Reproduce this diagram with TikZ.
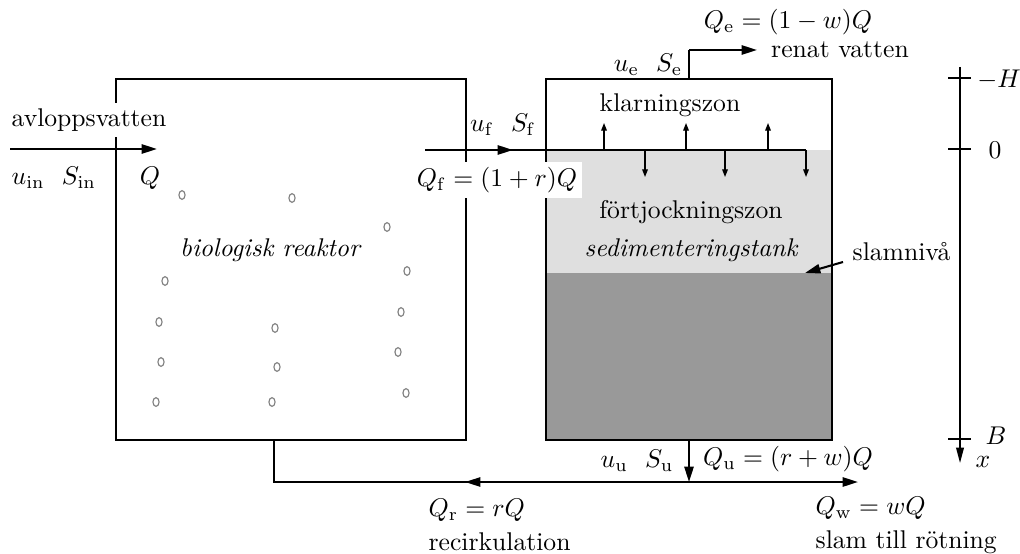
\documentclass[tikz,border=0pt]{standalone}
\usepackage{amsmath}
\usetikzlibrary{arrows.meta}

\begin{document}
\begin{tikzpicture}[
  x=0.39pt, y=-0.39pt,
  wall/.style={line width=0.8pt},
  pipe/.style={line width=0.8pt},
  arr/.style={-{Triangle[length=6pt,width=3.6pt]}, line width=0.8pt},
  flux/.style={-{Triangle[length=3pt,width=2.2pt]}, line width=0.5pt},
  axis/.style={-{Triangle[length=6pt,width=3pt]}, line width=0.6pt},
  lbl/.style={inner sep=2pt},
  cover/.style={fill=white, inner sep=2pt},
  bubble/.style={draw=gray, line width=0.45pt},
]
\useasboundingbox (0,0) rectangle (1020,554);

% ---- tank contents
\fill[gray!25] (546,150) rectangle (832,273);
\fill[black!40] (546,273) rectangle (832,440);

% ---- reactor and tank
\draw[wall] (116,79) rectangle (466,440);
\draw[wall] (546,79) rectangle (832,440);
\foreach \bx/\by in {182/195, 292/198, 387/227, 165/281, 407/271, 159/322, 275/328,
                     401/312, 161/362, 277/367, 398/352, 156/402, 272/402, 406/393}
  \draw[bubble] (\bx,\by) ellipse [x radius=1.2pt, y radius=1.7pt];

% ---- pipe points
\coordinate (in) at (10,149);
\coordinate (inTip) at (157,149);
\coordinate (fs) at (425,150);
\coordinate (fm) at (513,150);
\coordinate (fe) at (806,150);
\coordinate (eo) at (689,79);
\coordinate (ec) at (689,50);
\coordinate (eTip) at (757,50);
\coordinate (uo) at (689,440);
\coordinate (uj) at (689,482);
\coordinate (rm) at (465,482);
\coordinate (rc) at (274,482);
\coordinate (ri) at (274,440);
\coordinate (wTip) at (858,482);
\coordinate (lvl) at (805,273);

% ---- flows
\draw[arr] (in) -- (inTip);
\draw[pipe] (fs) -- (fe);
\draw[arr] (fs) -- (fm);
\draw[flux] (fe) -- ++(0,27);
\foreach \ux in {604,686,768}
  \draw[flux] (\ux,150) -- (\ux,123);
\foreach \dx in {645,725}
  \draw[flux] (\dx,150) -- (\dx,177);
\draw[pipe] (eo) -- (ec);
\draw[arr] (ec) -- (eTip);
\draw[arr] (uo) -- (uj);
\draw[pipe] (uj) -- (rc) -- (ri);
\draw[arr] (uj) -- (rm);
\draw[arr] (uj) -- (wTip);

% ---- depth axis
\draw[axis] (960,67) -- (960,463);
\foreach \ty in {78,149,439}
  \draw[line width=0.6pt] (948,\ty) -- (971,\ty);

% ---- labels
\node[cover, anchor=west] (avl) at (6,120) {avloppsvatten};
\node[lbl, anchor=west] (uin) at (6,178) {$u_{\mathrm{in}}\ \ S_{\mathrm{in}}$};
\node[lbl] (q) at (150,178) {$Q$};
\node[lbl] (uf) at (503,125) {$u_{\mathrm{f}}\ \ S_{\mathrm{f}}$};
\node[cover] (qf) at (497,180) {$Q_{\mathrm{f}}=(1+r)Q$};
\node[lbl] (ue) at (648,65) {$u_{\mathrm{e}}\ \ S_{\mathrm{e}}$};
\node[lbl] (qe) at (788,22) {$Q_{\mathrm{e}}=(1-w)Q$};
\node[lbl] (renat) at (840,50) {renat vatten};
\node[lbl] (klar) at (670,105) {klarningszon};
\node[lbl] (fort) at (691,212) {förtjockningszon};
\node[lbl] (sed) at (691,250) {\itshape sedimenteringstank};
\node[lbl, anchor=west] (slam) at (847,252) {slamnivå};
\draw[arr] (slam.west) ++(-4,10) -- (lvl);
\node[lbl] (bio) at (270,250) {\itshape biologisk reaktor};
\node[lbl] (mH) at (999,80) {$-H$};
\node[lbl] (zero) at (995,150) {$0$};
\node[lbl] (bB) at (996,436) {$B$};
\node[lbl] (xx) at (983,462) {$x$};
\node[lbl] (uu) at (637,461) {$u_{\mathrm{u}}\ \ S_{\mathrm{u}}$};
\node[lbl] (qu) at (788,459) {$Q_{\mathrm{u}}=(r+w)Q$};
\node[lbl, anchor=west] (qr) at (423,510) {$Q_{\mathrm{r}}=rQ$};
\node[lbl, anchor=west] (recirk) at (423,542) {recirkulation};
\node[lbl, anchor=west] (qw) at (810,508) {$Q_{\mathrm{w}}=wQ$};
\node[lbl, anchor=west] (slamr) at (810,542) {slam till rötning};
\end{tikzpicture}
\end{document}
